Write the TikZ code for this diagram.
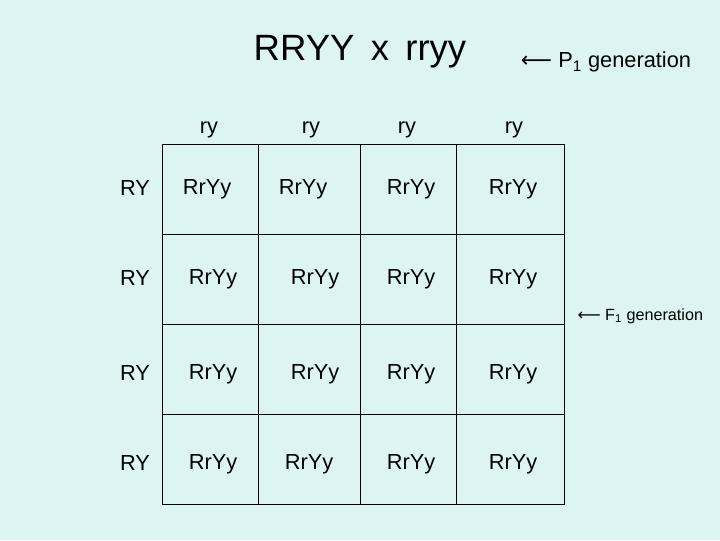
\documentclass[tikz,border=0pt]{standalone}
\usepackage{fontspec}
\setmainfont{Liberation Sans}
\newfontfamily\symfont{DejaVu Sans}
\definecolor{bgcol}{HTML}{DDF5F2}
\tikzset{cell/.style={font=\fontsize{15.5}{18}\selectfont, inner sep=0pt}}
\begin{document}
\begin{tikzpicture}[x=0.025cm, y=-0.025cm]
\fill[bgcol] (0,0) rectangle (720,540);
\useasboundingbox (0,0) rectangle (720,540);
\node[font=\fontsize{26}{30}\selectfont] (title) at (360,52) {RRYY\, x\, rryy};
\node[font=\fontsize{15.5}{18}\selectfont, anchor=west] (pgen) at (516,62) {{\symfont ⟵} P\textsubscript{1} generation};
\node[font=\fontsize{11.5}{14}\selectfont, anchor=east] (fgen) at (708,316) {{\symfont ⟵} F\textsubscript{1} generation};
\draw[line width=0.6pt] (162,144) rectangle (564,504);
\foreach \x in {258,360,456} \draw[line width=0.6pt] (\x,144) -- (\x,504);
\foreach \y in {234,324,414} \draw[line width=0.6pt] (162,\y) -- (564,\y);
\foreach \x [count=\i] in {209,311,407,514} \node[cell] (ry\i) at (\x,130) {ry};
\foreach \y [count=\j] in {188,278,373,463} \node[cell] (RY\j) at (135,\y) {RY};
\foreach \x [count=\i] in {207,303,411,513} \node[cell] (a\i) at (\x,189) {RrYy};
\foreach \x [count=\i] in {213,315,411,513} \node[cell] (b\i) at (\x,279) {RrYy};
\foreach \x [count=\i] in {213,315,411,513} \node[cell] (c\i) at (\x,374) {RrYy};
\foreach \x [count=\i] in {213,309,411,513} \node[cell] (d\i) at (\x,464) {RrYy};
\end{tikzpicture}
\end{document}
